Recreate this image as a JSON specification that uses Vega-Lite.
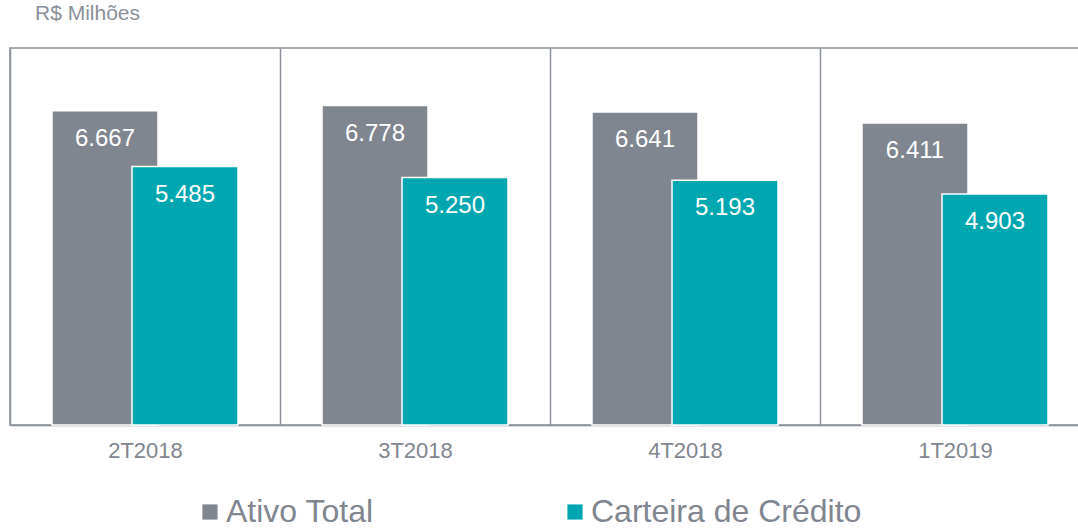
{
  "$schema": "https://vega.github.io/schema/vega-lite/v6.json",
  "autosize": {"type": "none"},
  "width": 1080,
  "height": 377,
  "padding": {"left": 10, "top": 48, "right": 0, "bottom": 104},
  "background": "white",
  "config": {
    "font": "Liberation Sans",
    "view": {"stroke": "#8a9099", "strokeWidth": 1.5},
    "locale": {"number": {"decimal": ",", "thousands": ".", "grouping": [3], "currency": ["R$", ""]}}
  },
  "title": {
    "text": "R$ Milhões",
    "anchor": "start",
    "dx": 25,
    "offset": 24,
    "fontSize": 21,
    "fontWeight": "normal",
    "color": "#8a9099"
  },
  "data": {
    "values": [
      {"trimestre": "2T2018", "serie": "Ativo Total", "valor": 6667},
      {"trimestre": "3T2018", "serie": "Ativo Total", "valor": 6778},
      {"trimestre": "4T2018", "serie": "Ativo Total", "valor": 6641},
      {"trimestre": "1T2019", "serie": "Ativo Total", "valor": 6411},
      {"trimestre": "2T2018", "serie": "Carteira de Crédito", "valor": 5485},
      {"trimestre": "3T2018", "serie": "Carteira de Crédito", "valor": 5250},
      {"trimestre": "4T2018", "serie": "Carteira de Crédito", "valor": 5193},
      {"trimestre": "1T2019", "serie": "Carteira de Crédito", "valor": 4903}
    ]
  },
  "encoding": {
    "x": {
      "field": "trimestre",
      "type": "nominal",
      "sort": ["2T2018", "3T2018", "4T2018", "1T2019"],
      "scale": {"paddingInner": 0, "paddingOuter": 0},
      "axis": {
        "title": null,
        "labelAngle": 0,
        "labelFontSize": 22,
        "labelColor": "#7f868f",
        "labelPadding": 15,
        "ticks": false,
        "tickBand": "extent",
        "grid": true,
        "gridColor": "#8a9099",
        "gridWidth": 1.5,
        "domainColor": "#8a9099",
        "domainWidth": 1.5
      }
    },
    "xOffset": {
      "field": "serie",
      "type": "nominal",
      "sort": ["Ativo Total", "Carteira de Crédito"],
      "scale": {"paddingInner": 0, "paddingOuter": 0.6875}
    },
    "y": {
      "field": "valor",
      "type": "quantitative",
      "scale": {"domain": [0, 8000], "nice": false},
      "axis": null
    }
  },
  "layer": [
    {
      "mark": {"type": "bar", "width": 106, "stroke": "white", "strokeWidth": 1.5},
      "encoding": {
        "color": {
          "field": "serie",
          "type": "nominal",
          "sort": ["Ativo Total", "Carteira de Crédito"],
          "scale": {"range": ["#7f868f", "#00a7b1"]},
          "legend": {
            "title": null,
            "orient": "none",
            "legendX": 184,
            "legendY": 448,
            "padding": 0,
            "direction": "horizontal",
            "labelFontSize": 32,
            "labelColor": "#7f868f",
            "labelOffset": 0,
            "symbolType": "square",
            "symbolSize": 230,
            "symbolStrokeWidth": 0,
            "columnPadding": 185,
            "labelLimit": 400
          }
        }
      }
    },
    {
      "mark": {"type": "text", "color": "white", "fontSize": 24, "baseline": "middle", "dy": 28},
      "encoding": {
        "text": {"field": "valor", "type": "quantitative", "format": ",.0f"}
      }
    }
  ]
}
